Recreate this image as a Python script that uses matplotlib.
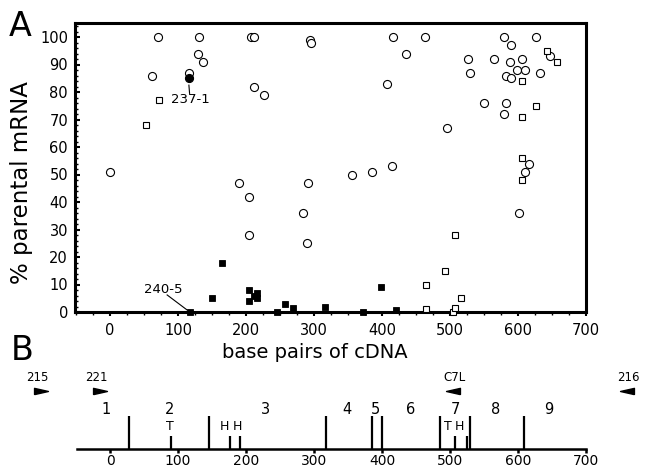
import matplotlib
matplotlib.use("Agg")
import matplotlib.pyplot as plt
from matplotlib.ticker import MultipleLocator
from matplotlib.path import Path

plt.rcParams['font.family'] = ['DejaVu Sans']

### panel A data: base pairs of cDNA vs % parental mRNA ###
open_circle_x = [0, 71, 62, 131, 130, 137, 116, 208, 212, 212, 226, 294, 295,
                 190, 205, 205, 291, 284, 290,
                 416, 463, 435, 408, 526, 529, 564, 580, 590, 626, 588, 606,
                 598, 611, 582, 590, 633, 647, 550, 582, 579, 496, 356, 386,
                 414, 616, 611, 601]
open_circle_y = [51, 100, 86, 100, 94, 91, 87, 100, 100, 82, 79, 99, 98,
                 47, 42, 28, 47, 36, 25,
                 100, 100, 94, 83, 92, 87, 92, 100, 97, 100, 91, 92,
                 88, 88, 86, 85, 87, 93, 76, 76, 72, 67, 50, 51,
                 53, 54, 51, 36]

open_square_x = [72, 53, 643, 657, 606, 627, 606, 606, 606, 507, 493, 465, 516, 465, 505, 508]
open_square_y = [77, 68, 95, 91, 84, 75, 71, 56, 48, 28, 15, 10, 5, 1, 0, 1.5]

filled_square_x = [117, 150, 164, 204, 204, 216, 216, 212, 245, 258, 269, 316, 372, 398, 420]
filled_square_y = [0, 5, 18, 8, 4, 7, 5, 6, 0, 3, 1.5, 1.7, 0, 9, 0.7]

filled_circle_x = [116]
filled_circle_y = [85]

### panel B data: exon map ###
exon_boundaries = [28, 145, 317, 386, 400, 486, 530, 609]
site_positions = [89, 177, 191, 507, 525]
site_labels = ["T", "H", "H", "T", "H"]
site_label_x = [88, 169, 187, 497, 514]
exon_numbers = ["1", "2", "3", "4", "5", "6", "7", "8", "9"]
exon_number_x = [-6, 88, 228, 349, 390, 442, 508, 567, 645]
primer_names = ["215", "221", "C7L", "216"]
primer_x = [-102, -15, 505, 761]
primer_dir = ["right", "right", "left", "left"]

fig = plt.figure(figsize=(6.45, 4.72), dpi=100)

W, H = 645.0, 472.0
x0, x1 = 75, 586
axA = fig.add_axes([x0 / W, (H - 312) / H, (x1 - x0) / W, (312 - 22.7) / H])

axA.plot(open_circle_x, open_circle_y, 'o', ms=5.8, mfc='white', mec='black', mew=0.8, clip_on=False, zorder=3)
axA.plot(open_square_x, open_square_y, 's', ms=5.0, mfc='white', mec='black', mew=0.8, clip_on=False, zorder=3)
axA.plot(filled_square_x, filled_square_y, 's', ms=4.8, mfc='black', mec='black', mew=0.6, clip_on=False, zorder=4)
axA.plot(filled_circle_x, filled_circle_y, 'o', ms=5.8, mfc='black', mec='black', mew=0.8, clip_on=False, zorder=4)

axA.plot([116, 117], [82.5, 79.5], color='black', lw=0.8)
axA.text(118, 77.3, "237-1", ha='center', va='center', fontsize=9.5)
axA.plot([84, 113], [6.2, 0.8], color='black', lw=0.8)
axA.text(79, 8.2, "240-5", ha='center', va='center', fontsize=9.5)

axA.set_xlim(-51.5, 700)
axA.set_ylim(0, 105.2)
for s in axA.spines.values():
    s.set_linewidth(2.2)
axA.xaxis.set_major_locator(MultipleLocator(100))
axA.xaxis.set_minor_locator(MultipleLocator(25))
axA.yaxis.set_major_locator(MultipleLocator(10))
axA.yaxis.set_minor_locator(MultipleLocator(2))
axA.tick_params(axis='x', which='major', direction='out', length=3.2, width=1.5, pad=5, labelsize=10.5)
axA.tick_params(axis='x', which='minor', direction='out', length=2, width=1.0)
axA.tick_params(axis='y', which='major', direction='in', length=3.6, width=1.5, pad=5, labelsize=10.5)
axA.tick_params(axis='y', which='minor', direction='in', length=1.8, width=1.0)

fig.text(22 / W, 1 - 183 / H, "% parental mRNA", rotation=90, ha='center', va='center', fontsize=16.5)
fig.text(315 / W, 1 - 352 / H, "base pairs of cDNA", ha='center', va='center', fontsize=14)
fig.text(20 / W, 1 - 27 / H, "A", ha='center', va='center', fontsize=24)
fig.text(22 / W, 1 - 350 / H, "B", ha='center', va='center', fontsize=24)

### panel B ###
axB = fig.add_axes([x0 / W, (H - 449) / H, (x1 - x0) / W, 79 / H])
axB.set_xlim(-51.5, 700)
axB.set_ylim(0, 1)
for k in ['left', 'right', 'top']:
    axB.spines[k].set_visible(False)
axB.spines['bottom'].set_linewidth(1.8)
axB.spines['bottom'].set_bounds(-48, 700)
axB.set_xticks(range(0, 701, 100))
axB.set_yticks([])
axB.tick_params(axis='x', direction='out', length=2.8, width=1.8, pad=0.5, labelsize=10)
axB.patch.set_alpha(0)

axB.vlines(exon_boundaries, 0, 0.418, color='black', lw=1.6)
axB.vlines(site_positions, 0, 0.168, color='black', lw=1.6)
for lab, x in zip(site_labels, site_label_x):
    axB.text(x, 0.285, lab, ha='center', va='center', fontsize=9)
for lab, x in zip(exon_numbers, exon_number_x):
    axB.text(x, 0.494, lab, ha='center', va='center', fontsize=10.5)

right_tri = Path([(-1, -0.45), (1, 0), (-1, 0.45), (-1, -0.45)])
left_tri = Path([(1, -0.45), (-1, 0), (1, 0.45), (1, -0.45)])
for name, x, d in zip(primer_names, primer_x, primer_dir):
    m = right_tri if d == "right" else left_tri
    axB.plot([x], [0.738], marker=m, ms=10, color='black', clip_on=False)
    axB.text(x - 5 if d == "right" else x + 2, 0.911, name, ha='center', va='center', fontsize=8.5)

fig.savefig("out.png", dpi=100)
